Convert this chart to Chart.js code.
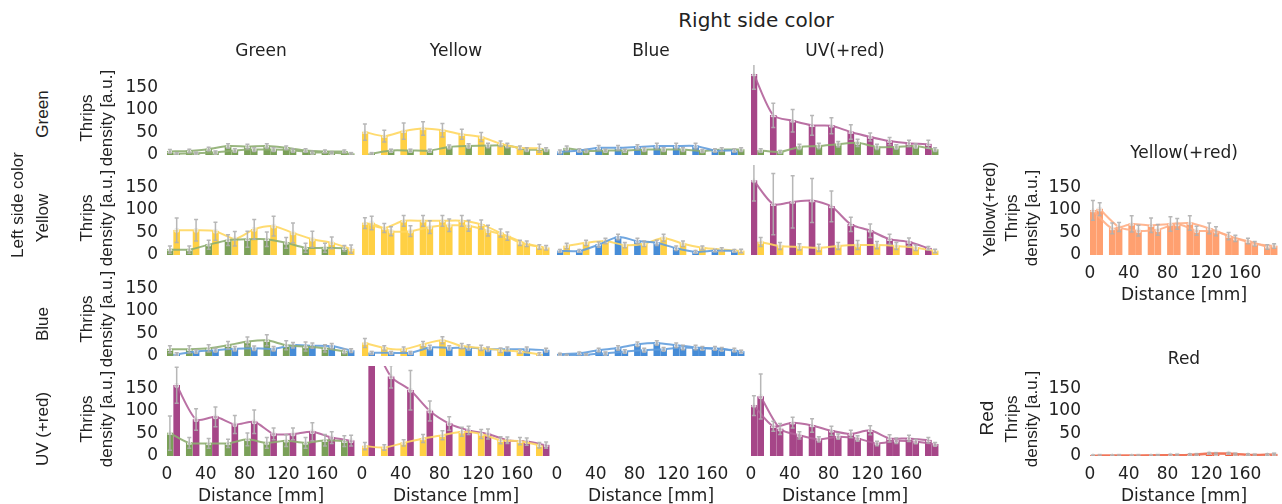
<!DOCTYPE html>
<html>
<head>
<meta charset="utf-8">
<script src="https://cdn.jsdelivr.net/npm/chart.js@4.4.1/dist/chart.umd.min.js"></script>
<style>
  body { margin: 0; background: #fff; overflow: hidden; }
  #wrap { position: relative; width: 1282px; height: 504px; overflow: hidden;
          font-family: 'DejaVu Sans', sans-serif; color: #222; }
  canvas { position: absolute; }
  .lbl { position: absolute; white-space: nowrap; font-size: 17px; line-height: 20px;
         transform: translate(-50%, -50%); text-align: center; }
  .rot { transform: translate(-50%, -50%) rotate(-90deg);
         font-family: 'Liberation Sans', Arial, sans-serif; }
</style>
</head>
<body>
<div id="wrap"></div>
<script>
// bar positions inside each 20 mm bin: column colour on the left, row colour on the right
const xLeft  = [3, 23, 43, 63, 83, 103, 123, 143, 163, 183];
const xRight = [10, 30, 50, 70, 90, 110, 130, 150, 170, 190];
const xTicks = [0, 40, 80, 120, 160];
const yTicks = [0, 50, 100, 150];

// naming: <row><col>_c = column-colour series, _r = row-colour series, e = error
// row Green
const GG_c = [8, 9, 13, 20, 19, 20, 16, 10, 8, 8],      GG_ce = [4, 4, 4, 5, 5, 5, 4, 4, 3, 3];
const GG_r = [3, 4, 6, 10, 12, 12, 10, 6, 5, 3],        GG_re = [2, 2, 3, 4, 4, 4, 4, 3, 2, 2];
const GY_c = [51, 42, 53, 59, 55, 46, 40, 25, 16, 15],  GY_ce = [18, 13, 18, 15, 15, 11, 10, 6, 4, 9];
const GY_r = [3, 10, 10, 10, 18, 20, 21, 21, 12, 12],   GY_re = [2, 3, 3, 3, 4, 5, 5, 5, 4, 4];
const GB_c = [7, 10, 16, 16, 18, 20, 20, 20, 10, 10],   GB_ce = [4, 4, 5, 5, 5, 6, 6, 6, 4, 4];
const GB_r = [15, 9, 10, 10, 12, 12, 12, 9, 12, 12],    GB_re = [5, 3, 3, 3, 4, 4, 4, 3, 4, 4];
const GU_c = [179, 88, 76, 66, 65, 51, 40, 31, 26, 24], GU_ce = [33, 27, 25, 22, 18, 16, 9, 8, 7, 9];
const GU_r = [10, 7, 18, 20, 24, 27, 18, 18, 20, 12],   GU_re = [4, 3, 6, 6, 6, 8, 6, 5, 5, 4];
// row Yellow
const YG_c = [12, 12, 23, 33, 35, 35, 27, 16, 16, 15],  YG_ce = [8, 8, 10, 12, 18, 16, 12, 10, 10, 6];
const YG_r = [55, 55, 53, 36, 57, 64, 49, 35, 27, 13],  YG_re = [27, 24, 20, 16, 22, 22, 22, 18, 13, 9];
const YY_c = [71, 60, 76, 76, 76, 76, 68, 49, 27, 18],  YY_ce = [12, 10, 12, 12, 12, 12, 10, 9, 6, 5];
const YY_r = [71, 53, 53, 62, 66, 65, 54, 42, 25, 16],  YY_re = [15, 10, 12, 14, 14, 12, 12, 9, 6, 5];
const YB_c = [9, 9, 23, 40, 31, 27, 15, 7, 10, 9],      YB_ce = [3, 3, 6, 6, 6, 6, 5, 3, 3, 3];
const YB_r = [20, 27, 31, 22, 25, 38, 25, 16, 12, 9],   YB_re = [6, 6, 6, 6, 6, 8, 6, 4, 4, 4];
const YU_c = [165, 113, 118, 121, 108, 68, 54, 35, 29, 15], YU_ce = [45, 68, 58, 49, 34, 16, 15, 11, 9, 4];
const YU_r = [29, 20, 18, 16, 20, 22, 22, 20, 16, 9],   YU_re = [10, 8, 7, 8, 8, 10, 8, 8, 6, 4];
// row Blue
const BG_c = [15, 15, 17, 24, 32, 35, 24, 21, 17, 10],  BG_ce = [8, 8, 8, 8, 10, 12, 10, 10, 8, 5];
const BG_r = [4, 10, 13, 16, 17, 16, 24, 23, 22, 12],   BG_re = [3, 4, 4, 5, 5, 5, 6, 6, 6, 4];
const BY_c = [29, 18, 15, 26, 35, 22, 18, 13, 10, 4],   BY_ce = [10, 5, 5, 6, 8, 6, 6, 5, 4, 3];
const BY_r = [7, 7, 7, 19, 18, 19, 15, 15, 15, 13],     BY_re = [3, 3, 3, 5, 5, 6, 5, 5, 5, 4];
const BB_c = [4, 6, 13, 18, 26, 29, 24, 19, 17, 13],    BB_ce = [2, 3, 4, 5, 5, 5, 5, 5, 4, 4];
const BB_r = [2, 3, 6, 10, 13, 15, 19, 17, 15, 10],     BB_re = [2, 2, 3, 4, 4, 4, 5, 4, 4, 3];
// row UV (+red)
const UG_c = [51, 29, 28, 28, 37, 29, 34, 29, 35, 33],  UG_ce = [38, 12, 11, 9, 14, 12, 13, 12, 13, 12];
const UG_r = [157, 81, 87, 70, 76, 49, 49, 54, 41, 34], UG_re = [40, 24, 22, 20, 26, 13, 13, 20, 13, 12];
const UY_c = [22, 19, 29, 39, 46, 54, 49, 35, 33, 24],  UY_ce = [8, 6, 7, 9, 10, 10, 10, 8, 8, 6];
const UY_r = [260, 176, 146, 100, 72, 57, 49, 35, 32, 24], UY_re = [30, 25, 44, 22, 15, 9, 11, 7, 8, 7];
const UU_c = [112, 66, 74, 68, 56, 49, 57, 39, 39, 35], UU_ce = [22, 11, 12, 15, 10, 8, 10, 8, 7, 6];
const UU_r = [132, 60, 46, 37, 43, 39, 28, 34, 32, 26], UU_re = [50, 12, 8, 6, 6, 6, 5, 6, 5, 4];
// single-colour panels on the right
const O_c = [99, 59, 69, 66, 69, 71, 59, 42, 31, 18],   O_ce = [22, 12, 18, 16, 16, 16, 12, 8, 6, 5];
const O_r = [102, 62, 54, 56, 69, 54, 53, 37, 25, 20],  O_re = [14, 10, 12, 12, 12, 10, 10, 7, 5, 5];
const R_c = [1, 1, 1, 1, 2, 3, 6, 6, 3, 3],             R_ce = [1, 1, 1, 1, 2, 2, 2, 2, 2, 2];
const R_r = [1, 1, 1, 2, 2, 3, 5, 4, 2, 4],             R_re = [1, 1, 1, 1, 2, 2, 2, 2, 2, 2];

const colTitles = ['Green', 'Yellow', 'Blue', 'UV(+red)'];
const rowTitles = ['Green', 'Yellow', 'Blue', 'UV (+red)'];

const COLORS = {
  green: [122, 160, 88], yellow: [255, 208, 68], blue: [70, 140, 215],
  uv: [166, 70, 136], orange: [255, 160, 112], red: [238, 90, 58],
};

// layout (px)
const COL_X = [167, 362, 557, 751];
const RIGHT_X = 1090;
const ROW_ZERO = [155, 255, 356, 456];
const PLOT_W = 188, PLOT_H = 90, PAD = 20, YW = 60, XH = 51;
const X_MAX = 194, Y_MAX = 200;

Chart.defaults.font.family = "'DejaVu Sans', sans-serif";
Chart.defaults.font.size = 17;
Chart.defaults.color = '#222';

const wrap = document.getElementById('wrap');

const rgb = (c, a = 1) => `rgba(${c[0]},${c[1]},${c[2]},${a})`;
const light = c => c.map(v => Math.round(v + (255 - v) * 0.15));

const errorBars = {
  id: 'errorBars',
  afterDatasetsDraw(chart) {
    const { ctx, chartArea: a, scales: { y } } = chart;
    ctx.save();
    ctx.beginPath();
    ctx.rect(a.left, a.top, a.right - a.left, a.bottom - a.top);
    ctx.clip();
    ctx.strokeStyle = 'rgba(175,175,175,0.9)';
    ctx.lineWidth = 1.5;
    chart.data.datasets.forEach((ds, i) => {
      if (!ds.errors) return;
      chart.getDatasetMeta(i).data.forEach((bar, j) => {
        const v = ds.data[j].y, e = ds.errors[j];
        const t = y.getPixelForValue(v + e), b = y.getPixelForValue(Math.max(v - e, 0));
        ctx.beginPath();
        ctx.moveTo(bar.x, t); ctx.lineTo(bar.x, b);
        ctx.moveTo(bar.x - 2, t); ctx.lineTo(bar.x + 2, t);
        ctx.moveTo(bar.x - 2, b); ctx.lineTo(bar.x + 2, b);
        ctx.stroke();
      });
    });
    ctx.restore();
  }
};

function pts(xs, ys) { return xs.map((x, i) => ({ x, y: ys[i] })); }

function barSet(xs, ys, errs, c) {
  return { type: 'bar', data: pts(xs, ys), errors: errs, backgroundColor: rgb(c),
           barThickness: 6, grouped: false, borderWidth: 0, order: 2 };
}
function lineSet(xs, ys, c, style) {
  return { type: 'line', data: pts(xs, ys), borderColor: rgb(light(c), 0.9), borderWidth: 2,
           tension: 0.25, pointStyle: style, pointRadius: 2.5,
           pointBackgroundColor: 'rgba(255,255,255,0.25)', pointBorderColor: 'rgba(235,235,235,0.9)',
           pointBorderWidth: 1, order: 1 };
}

function makePanel(p) {
  const yw = p.showY ? YW : 0, xh = p.showX ? XH : 0;
  const cv = document.createElement('canvas');
  cv.width = PAD + yw + PLOT_W + PAD;
  cv.height = PAD + PLOT_H + xh + PAD;
  cv.style.left = (p.left - PAD - yw) + 'px';
  cv.style.top = (p.zero - PLOT_H - PAD) + 'px';
  wrap.appendChild(cv);

  const datasets = [];
  if (p.c) {
    const cc = COLORS[p.cCol], rc = COLORS[p.rCol];
    datasets.push(barSet(xLeft, p.c, p.ce, cc), barSet(xRight, p.r, p.re, rc),
                  lineSet(xLeft, p.c, cc, 'triangle'), lineSet(xRight, p.r, rc, 'rect'));
  }

  new Chart(cv, {
    type: 'bar',
    data: { datasets },
    options: {
      responsive: false,
      animation: false,
      devicePixelRatio: 1,
      layout: { padding: PAD },
      plugins: { legend: { display: false }, tooltip: { enabled: false } },
      scales: {
        x: {
          type: 'linear', min: 0, max: X_MAX, offset: false, display: p.showX,
          grid: { display: false, drawTicks: false }, border: { display: false },
          afterBuildTicks: s => { s.ticks = xTicks.map(v => ({ value: v })); },
          afterFit: s => { s.height = p.showX ? XH : 0; },
          ticks: { padding: 8, maxRotation: 0, autoSkip: false },
          title: { display: true, text: 'Distance [mm]', padding: 0 },
        },
        y: {
          min: 0, max: Y_MAX, display: p.showY,
          grid: { display: false, drawTicks: false }, border: { display: false },
          afterBuildTicks: s => { s.ticks = yTicks.map(v => ({ value: v })); },
          afterFit: s => { s.width = p.showY ? YW : 0; },
          ticks: { padding: 9 },
        }
      }
    },
    plugins: [errorBars]
  });
}

const rowKeys = ['G', 'Y', 'B', 'U'];
const colNames = ['green', 'yellow', 'blue', 'uv'];
const series = {
  GG: [GG_c, GG_ce, GG_r, GG_re], GY: [GY_c, GY_ce, GY_r, GY_re], GB: [GB_c, GB_ce, GB_r, GB_re], GU: [GU_c, GU_ce, GU_r, GU_re],
  YG: [YG_c, YG_ce, YG_r, YG_re], YY: [YY_c, YY_ce, YY_r, YY_re], YB: [YB_c, YB_ce, YB_r, YB_re], YU: [YU_c, YU_ce, YU_r, YU_re],
  BG: [BG_c, BG_ce, BG_r, BG_re], BY: [BY_c, BY_ce, BY_r, BY_re], BB: [BB_c, BB_ce, BB_r, BB_re],
  UG: [UG_c, UG_ce, UG_r, UG_re], UY: [UY_c, UY_ce, UY_r, UY_re], UU: [UU_c, UU_ce, UU_r, UU_re],
};

for (let r = 0; r < 4; r++) {
  for (let c = 0; c < 4; c++) {
    const key = rowKeys[r] + rowKeys[c];
    const s = series[key];
    if (!s && r !== 3) continue;
    makePanel({
      left: COL_X[c], zero: ROW_ZERO[r], showY: c === 0, showX: r === 3,
      cCol: colNames[c], rCol: colNames[r],
      c: s && s[0], ce: s && s[1], r: s && s[2], re: s && s[3],
    });
  }
}
makePanel({ left: RIGHT_X, zero: ROW_ZERO[1], showY: true, showX: true, cCol: 'orange', rCol: 'orange',
            c: O_c, ce: O_ce, r: O_r, re: O_re });
makePanel({ left: RIGHT_X, zero: ROW_ZERO[3], showY: true, showX: true, cCol: 'red', rCol: 'red',
            c: R_c, ce: R_ce, r: R_r, re: R_re });

// text labels
function label(text, x, y, rot, extra) {
  const d = document.createElement('div');
  d.className = 'lbl' + (rot ? ' rot' : '');
  d.innerHTML = text;
  d.style.left = x + 'px';
  d.style.top = y + 'px';
  if (extra) Object.assign(d.style, extra);
  wrap.appendChild(d);
}
label('Right side color', 756, 20, false, { fontSize: '20px' });
label('Left side color', 18, 205, true);
colTitles.forEach((t, i) => label(t, COL_X[i] + PLOT_W / 2, 50));
const rowLabelY = [114, 218, 324, 429];
rowTitles.forEach((t, i) => {
  label(t, 43, rowLabelY[i], true);
  label('Thrips<br>density [a.u.]', 97, ROW_ZERO[i] - 37, true);
});
label('Yellow(+red)', RIGHT_X + PLOT_W / 2, 152);
label('Red', RIGHT_X + PLOT_W / 2, 358);
label('Yellow(+red)', 990, 209, true);
label('Red', 987, 418, true, { fontSize: '19px' });
label('Thrips<br>density [a.u.]', 1022, ROW_ZERO[1] - 37, true);
label('Thrips<br>density [a.u.]', 1022, ROW_ZERO[3] - 37, true);
</script>
</body>
</html>
